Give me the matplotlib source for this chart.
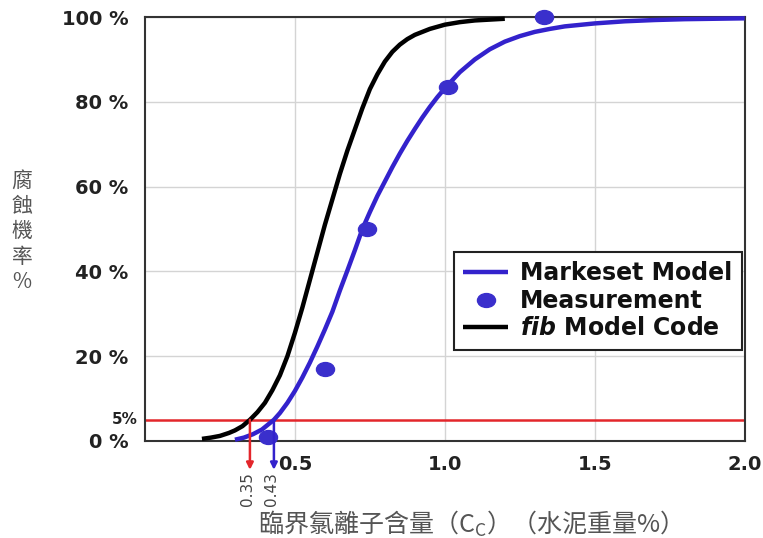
import matplotlib
matplotlib.use("Agg")
import matplotlib.pyplot as plt
from matplotlib.markers import MarkerStyle
from matplotlib.transforms import Affine2D

plt.rcParams["mathtext.fontset"] = "custom"
plt.rcParams["mathtext.it"] = "DejaVu Sans:italic:bold"
plt.rcParams["mathtext.rm"] = "DejaVu Sans:bold"

# fib Model Code curve (critical chloride content vs. probability of corrosion)
fib_x = [0.19, 0.22, 0.25, 0.28, 0.30, 0.325, 0.35, 0.375, 0.40, 0.425,
         0.45, 0.475, 0.50, 0.525, 0.55, 0.575, 0.60, 0.625, 0.65, 0.675,
         0.70, 0.725, 0.75, 0.775, 0.80, 0.825, 0.85, 0.875, 0.90, 0.95,
         1.00, 1.05, 1.10, 1.15, 1.20]
fib_y = [0.5, 0.8, 1.2, 1.9, 2.5, 3.5, 5.0, 6.8, 9.0, 12.0,
         15.5, 20.0, 25.5, 31.5, 38.0, 44.5, 51.0, 57.0, 63.0, 68.5,
         73.5, 78.5, 83.0, 86.5, 89.5, 91.8, 93.5, 94.8, 95.8, 97.2,
         98.2, 98.8, 99.2, 99.4, 99.6]

# Markeset model curve
mk_x = [0.30, 0.33, 0.36, 0.39, 0.43, 0.45, 0.475, 0.50, 0.525, 0.55,
        0.575, 0.60, 0.625, 0.65, 0.675, 0.70, 0.725, 0.75, 0.775, 0.80,
        0.825, 0.85, 0.875, 0.90, 0.925, 0.95, 0.975, 1.00, 1.05, 1.10,
        1.15, 1.20, 1.25, 1.30, 1.35, 1.40, 1.50, 1.60, 1.70, 1.80,
        1.90, 2.00]
mk_y = [0.3, 0.8, 1.6, 2.7, 5.0, 6.6, 9.0, 11.8, 15.0, 18.5,
        22.3, 26.3, 30.5, 35.5, 40.2, 45.0, 50.0, 54.0, 57.8, 61.2,
        64.6, 67.8, 70.8, 73.6, 76.3, 78.8, 81.1, 83.2, 87.0, 90.0,
        92.4, 94.2, 95.5, 96.5, 97.2, 97.8, 98.5, 99.0, 99.3, 99.5,
        99.6, 99.7]

# Measured points
meas_x = [0.41, 0.60, 0.74, 1.01, 1.33]
meas_y = [1.0, 17.0, 50.0, 83.5, 100.0]

# 5 % probability threshold and the corresponding critical contents
p_threshold = 5
cc_fib = 0.35
cc_markeset = 0.43

y_ticks = [0, 20, 40, 60, 80, 100]
y_tick_labels = ["0 %", "20 %", "40 %", "60 %", "80 %", "100 %"]
x_ticks = [0.5, 1.0, 1.5, 2.0]
x_tick_labels = ["0.5", "1.0", "1.5", "2.0"]

BLUE = "#3322cc"
RED = "#e3262b"
CJK = ["Noto Sans CJK TC", "DejaVu Sans"]

fig = plt.figure(figsize=(7.63, 5.38), dpi=100)
ax = fig.add_axes([0.190, 0.1803, 0.786, 0.788])

ax.set_xlim(0, 2.0)
ax.set_ylim(0, 100)

ax.set_xticks(x_ticks)
ax.set_xticklabels(x_tick_labels)
ax.set_yticks(y_ticks)
ax.set_yticklabels(y_tick_labels)
ax.tick_params(length=0, labelsize=14, pad=10)
ax.tick_params(axis="y", pad=12)
for lab in ax.get_xticklabels() + ax.get_yticklabels():
    lab.set_fontweight("bold")
    lab.set_color("#222222")

ax.grid(True, color="#d4d4d4", linewidth=1.0, zorder=0)
ax.set_axisbelow(True)
for sp in ax.spines.values():
    sp.set_color("#333333")
    sp.set_linewidth(1.5)

# threshold line
ax.axhline(p_threshold, color=RED, linewidth=1.8, zorder=2)
ax.text(-0.025, p_threshold, "5%", ha="right", va="center", fontsize=11,
        fontweight="bold", color="#222222", transform=ax.transData)

# curves
ax.plot(mk_x, mk_y, color=BLUE, linewidth=3.2, solid_capstyle="butt",
        solid_joinstyle="round", zorder=4, label="Markeset Model",
        clip_on=False)
ellipse = MarkerStyle("o", transform=Affine2D().scale(1.3, 1.0))
ax.plot(meas_x, meas_y, linestyle="none", marker=ellipse, markersize=10,
        color="#3a2fcc", zorder=5, label="Measurement", clip_on=False)
ax.plot(fib_x, fib_y, color="black", linewidth=3.2, solid_capstyle="butt",
        solid_joinstyle="round", zorder=3, label=r"$\it{fib}$ Model Code",
        clip_on=False)

# arrows down to the critical contents
for xv, col in [(cc_fib, RED), (cc_markeset, BLUE)]:
    ax.annotate("", xy=(xv, -6.8), xytext=(xv, p_threshold),
                xycoords="data", textcoords="data",
                arrowprops=dict(arrowstyle="-|>", color=col, lw=1.8,
                                mutation_scale=10, shrinkA=0, shrinkB=0),
                annotation_clip=False, zorder=6)
    ax.annotate(f"{xv:.2f}", xy=(xv, -7.3), xytext=(-2, 0),
                textcoords="offset points", rotation=90, ha="center",
                va="top", fontsize=11, color="#444444",
                annotation_clip=False)

leg = ax.legend(loc="upper right", bbox_to_anchor=(0.995, 0.446),
                borderaxespad=0, frameon=True, fancybox=False,
                prop={"weight": "bold", "size": 17}, handlelength=1.9,
                handletextpad=0.5, labelspacing=0.15, borderpad=0.4,
                framealpha=1.0)
leg.get_frame().set_edgecolor("#222222")
leg.get_frame().set_linewidth(1.5)
for t in leg.get_texts():
    t.set_color("#111111")

# axis titles
fig.text(0.029, 0.57, "腐\n蝕\n機\n率\n%", family=CJK, fontsize=15,
         color="#555555", ha="center", va="center", linespacing=1.2)
fig.text(0.607, 0.027, "臨界氯離子含量（C$_{\\mathregular{C}}$）（水泥重量%）",
         family=CJK, fontsize=18, color="#555555", ha="center", va="center")

fig.savefig("out.png", dpi=100)
